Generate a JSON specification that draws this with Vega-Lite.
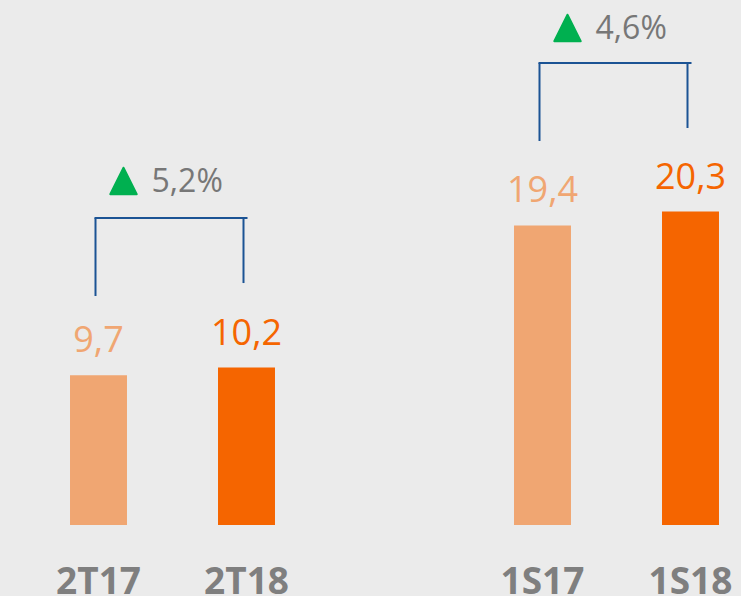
{
  "$schema": "https://vega.github.io/schema/vega-lite/v6.json",
  "autosize": {"type": "none"},
  "padding": {"left": 24.5, "top": 0, "right": 0, "bottom": 71},
  "width": 716.5,
  "height": 525,
  "background": "#ebebeb",
  "config": {"view": {"stroke": null}, "font": "Open Sans"},
  "datasets": {
    "main": [
      {"cat": "2T17", "value": 9.7, "label": "9,7", "shade": "light"},
      {"cat": "2T18", "value": 10.2, "label": "10,2", "shade": "dark"},
      {"cat": "1S17", "value": 19.4, "label": "19,4", "shade": "light"},
      {"cat": "1S18", "value": 20.3, "label": "20,3", "shade": "dark"}
    ],
    "legs": [
      {"cat": "2T17", "low": 14.83, "high": 19.88},
      {"cat": "2T18", "low": 15.67, "high": 19.88},
      {"cat": "1S17", "low": 24.87, "high": 29.92},
      {"cat": "1S18", "low": 25.71, "high": 29.92}
    ],
    "tops": [
      {"from": "2T17", "to": "2T18", "level": 19.88},
      {"from": "1S17", "to": "1S18", "level": 29.92}
    ],
    "growth": [
      {"cat": "2T17", "pct": "5,2%", "level": 21.57},
      {"cat": "1S17", "pct": "4,6%", "level": 31.48}
    ]
  },
  "layer": [
    {
      "data": {"name": "main"},
      "mark": {"type": "bar"},
      "encoding": {
        "x": {
          "field": "cat", "type": "nominal",
          "scale": {"domain": ["2T17", "2T18", "gap", "1S17", "1S18"], "range": [0, 740], "paddingInner": 0.615, "paddingOuter": 0.3075},
          "axis": {
            "title": null, "domain": false, "ticks": false, "tickSize": 0, "grid": false,
            "labelAngle": 0, "labelExpr": "datum.value == 'gap' ? '' : datum.value",
            "labelFont": "Open Sans", "labelFontSize": 37, "labelFontWeight": "bold",
            "labelColor": "#7f7f7f", "labelBaseline": "alphabetic", "labelPadding": 68
          }
        },
        "y": {"field": "value", "type": "quantitative", "scale": {"domain": [0, 34], "nice": false, "zero": true}, "axis": null},
        "color": {"field": "shade", "type": "nominal", "scale": {"domain": ["light", "dark"], "range": ["#F0A672", "#F56500"]}, "legend": null}
      }
    },
    {
      "data": {"name": "main"},
      "mark": {"type": "text", "font": "Open Sans", "fontSize": 36, "baseline": "alphabetic", "dy": -23},
      "encoding": {
        "x": {"field": "cat", "type": "nominal"},
        "y": {"field": "value", "type": "quantitative"},
        "text": {"field": "label"},
        "color": {"field": "shade", "type": "nominal", "legend": null}
      }
    },
    {
      "mark": {"type": "rule", "color": "#6b6b6b", "strokeWidth": 3},
      "encoding": {"y": {"datum": 0}}
    },
    {
      "data": {"name": "legs"},
      "mark": {"type": "rule", "color": "#1B5394", "strokeWidth": 2, "xOffset": -3},
      "encoding": {
        "x": {"field": "cat", "type": "nominal"},
        "y": {"field": "low", "type": "quantitative"},
        "y2": {"field": "high"}
      }
    },
    {
      "data": {"name": "tops"},
      "mark": {"type": "rule", "color": "#1B5394", "strokeWidth": 2, "xOffset": -3, "strokeCap": "square"},
      "encoding": {
        "x": {"field": "from", "type": "nominal"},
        "x2": {"field": "to"},
        "y": {"field": "level", "type": "quantitative"}
      }
    },
    {
      "data": {"name": "growth"},
      "mark": {"type": "point", "shape": "M0,-1L-1,1L1,1Z", "filled": true, "opacity": 1, "color": "#00B050", "size": 700, "stroke": "#00B050", "strokeWidth": 2, "strokeJoin": "round", "xOffset": 25, "yOffset": -11},
      "encoding": {
        "x": {"field": "cat", "type": "nominal"},
        "y": {"field": "level", "type": "quantitative"}
      }
    },
    {
      "data": {"name": "growth"},
      "mark": {"type": "text", "font": "Open Sans", "fontSize": 32, "color": "#777777", "align": "left", "baseline": "alphabetic", "dx": 53},
      "encoding": {
        "x": {"field": "cat", "type": "nominal"},
        "y": {"field": "level", "type": "quantitative"},
        "text": {"field": "pct"}
      }
    }
  ]
}
